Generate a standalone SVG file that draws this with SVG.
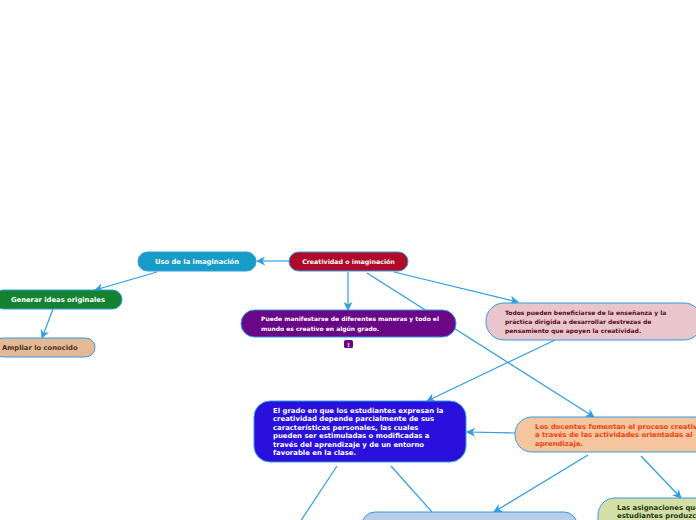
<svg xmlns="http://www.w3.org/2000/svg" width="696" height="520" viewBox="0 0 696 520">
<style>
.n{stroke:#2f9ce4;stroke-width:1}
.t{font-family:"DejaVu Sans",Verdana,sans-serif;font-weight:bold}
.c{stroke:#2f9ce4;stroke-width:1.2;fill:none}
</style>
<defs>
<marker id="a" viewBox="0 0 10 10" refX="9" refY="5" markerWidth="9" markerHeight="9" markerUnits="userSpaceOnUse" orient="auto">
<path d="M0,0 L10,5 L0,10 L3,5 Z" fill="#2f9ce4"/>
</marker>
</defs>
<rect width="696" height="520" fill="#fff"/>
<g id="connectors">
<path class="c" d="M289,261 L257,261" marker-end="url(#a)"/>
<path class="c" d="M157,272 L95,290" marker-end="url(#a)"/>
<path class="c" d="M53,309 L42,338" marker-end="url(#a)"/>
<path class="c" d="M348,272 L348,310" marker-end="url(#a)"/>
<path class="c" d="M394,272 L518,302" marker-end="url(#a)"/>
<path class="c" d="M367,273 L594,417" marker-end="url(#a)"/>
<path class="c" d="M555,340 L427,401" marker-end="url(#a)"/>
<path class="c" d="M515,433 L467,432" marker-end="url(#a)"/>
<path class="c" d="M337,466 L300,522"/>
<path class="c" d="M391,466 L432,512"/>
<path class="c" d="M588,455 L494,512" marker-end="url(#a)"/>
<path class="c" d="M641,456 L681,498" marker-end="url(#a)"/>
</g>
<g id="creatividad">
<rect class="n" x="289" y="252" width="119" height="19" rx="9.5" fill="#b00a2a"/>
<text class="t" x="348.5" y="264" font-size="6.3" fill="#fff" text-anchor="middle">Creatividad o imaginación</text>
</g>
<g id="uso">
<rect class="n" x="138" y="252" width="118" height="19" rx="9.5" fill="#179cc8"/>
<text class="t" x="197" y="264" font-size="6.8" fill="#fff" text-anchor="middle">Uso de la imaginación</text>
</g>
<g id="generar">
<rect class="n" x="-6" y="290" width="128" height="19" rx="9.5" fill="#148230"/>
<text class="t" x="58" y="302" font-size="6.8" fill="#fff" text-anchor="middle">Generar ideas originales</text>
</g>
<g id="ampliar">
<rect class="n" x="-6" y="338" width="101" height="19" rx="9.5" fill="#e4b996"/>
<text class="t" x="2" y="350" font-size="6.8" fill="#4a3020">Ampliar lo conocido</text>
</g>
<g id="puede">
<rect class="n" x="241" y="310" width="215" height="27" rx="13.5" fill="#6a0786"/>
<text class="t" font-size="6" fill="#fff"><tspan x="261" y="321">Puede manifestarse de diferentes maneras y todo el</tspan><tspan x="261" y="331">mundo es creativo en algún grado.</tspan></text>
<rect x="344" y="340" width="9" height="8" rx="1.5" fill="#6a0786"/>
<text class="t" x="348.5" y="346.5" font-size="5.5" fill="#fff" text-anchor="middle">!</text>
</g>
<g id="todos">
<rect class="n" x="486" y="303" width="216" height="37" rx="18" fill="#e8c6cc"/>
<text class="t" font-size="6" fill="#5a0a1a"><tspan x="505" y="315">Todos pueden beneficiarse de la enseñanza y la</tspan><tspan x="505" y="324">práctica dirigida a desarrollar destrezas de</tspan><tspan x="505" y="333">pensamiento que apoyen la creatividad.</tspan></text>
</g>
<g id="grado">
<rect class="n" x="254" y="401" width="212" height="61" rx="16" fill="#2a10dc"/>
<text class="t" font-size="6.9" fill="#fff"><tspan x="273" y="412.5">El grado en que los estudiantes expresan la</tspan><tspan x="273" y="421">creatividad depende parcialmente de sus</tspan><tspan x="273" y="429.5">características personales, las cuales</tspan><tspan x="273" y="438">pueden ser estimuladas o modificadas a</tspan><tspan x="273" y="446.5">través del aprendizaje y de un entorno</tspan><tspan x="273" y="455">favorable en la clase.</tspan></text>
</g>
<g id="docentes">
<rect class="n" x="515" y="417" width="200" height="35" rx="17" fill="#f5c59e"/>
<text class="t" font-size="6.9" fill="#f2400e"><tspan x="535" y="428.5">Los docentes fomentan el proceso creativo</tspan><tspan x="535" y="437">a través de las actividades orientadas al</tspan><tspan x="535" y="445.5">aprendizaje.</tspan></text>
</g>
<g id="analisis">
<rect class="n" x="362" y="512" width="215" height="30" rx="13" fill="#b9cde9"/>
</g>
<g id="asignaciones">
<rect class="n" x="598" y="498" width="120" height="40" rx="17" fill="#d4dea6"/>
<text class="t" font-size="6.9" fill="#1a3a10"><tspan x="617" y="509.5">Las asignaciones que</tspan><tspan x="617" y="518">estudiantes produzcan</tspan></text>
</g>
</svg>
